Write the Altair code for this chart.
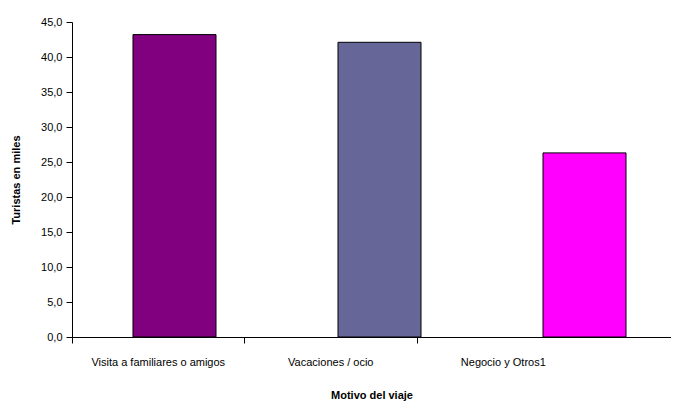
import altair as alt
import pandas as pd

categories = ["Visita a familiares o amigos", "Vacaciones / ocio", "Negocio y Otros1"]
values = [43.2, 42.1, 26.3]
colors = ["#800080", "#666699", "#FF00FF"]

df = pd.DataFrame({"cat": categories, "value": values})

FONT = "Liberation Sans"

yaxis = alt.Axis(
    values=[0, 5, 10, 15, 20, 25, 30, 35, 40, 45],
    labelExpr="replace(format(datum.value, '.1f'), '.', ',')",
    grid=False, domainColor="black", tickColor="black", tickSize=6,
    labelColor="black", labelFont=FONT, labelFontSize=11, labelPadding=4,
    title="Turistas en miles", titleFont=FONT, titleFontSize=11,
    titleFontWeight="bold", titleColor="black", titlePadding=19,
)

bars = alt.Chart(df).mark_bar(stroke="black", strokeWidth=1).encode(
    x=alt.X("cat:N", sort=categories,
            scale=alt.Scale(paddingInner=0.5951, paddingOuter=0.2585, align=0.5755),
            axis=None),
    y=alt.Y("value:Q", scale=alt.Scale(domain=[0, 45], nice=False), axis=yaxis),
    color=alt.Color("cat:N", sort=categories,
                    scale=alt.Scale(domain=categories, range=colors), legend=None),
)

axis_layer = alt.Chart(df).mark_bar(opacity=0).encode(
    x=alt.X("cat:N", sort=categories,
            scale=alt.Scale(type="band", paddingInner=0, paddingOuter=0.236, align=0),
            axis=alt.Axis(bandPosition=0, labelAngle=0, grid=False,
                          domainColor="black", tickColor="black", tickSize=6,
                          labelColor="black", labelFont=FONT, labelFontSize=11,
                          labelPadding=13,
                          title="Motivo del viaje", titleFont=FONT, titleFontSize=11,
                          titleFontWeight="bold", titleColor="black",
                          titlePadding=22)),
)

chart = alt.layer(bars, axis_layer).resolve_scale(x="independent").properties(
    width=599, height=315,
    autosize=alt.AutoSizeParams(type="none"),
    padding={"left": 64, "top": 14, "right": 0, "bottom": 64},
).configure_view(stroke=None)

chart.save("out.html", embed_options={"renderer": "svg", "actions": False})
